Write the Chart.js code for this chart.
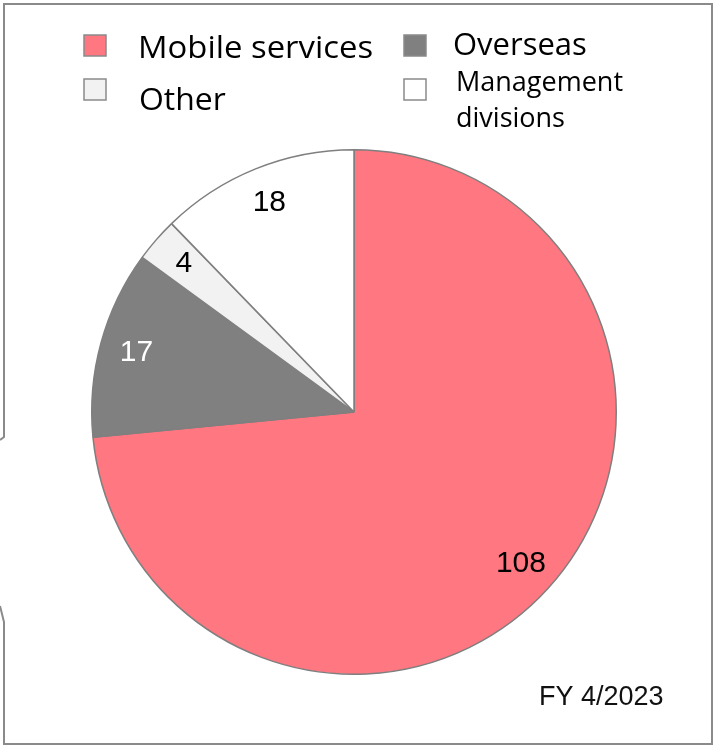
<!DOCTYPE html>
<html>
<head>
<meta charset="utf-8">
<script src="https://cdn.jsdelivr.net/npm/chart.js@4.4.1/dist/chart.umd.min.js"></script>
<style>
  html, body { margin: 0; padding: 0; background: #fff; }
  canvas { display: block; }
</style>
</head>
<body>
<canvas id="pieChart" width="715" height="747"></canvas>
<script>
// segment data, clockwise from 12 o'clock
const segments = ["Mobile services", "Overseas", "Other", ["Management", "divisions"]];
const counts = [108, 17, 4, 18];
const sliceColors = ["#ff7780", "#808080", "#f2f2f2", "#ffffff"];
const labelColors = ["#000000", "#ffffff", "#000000", "#000000"];
const periodLabel = "FY 4/2023";

// legend slots (box left, box top, text left, text baseline, font size, x stretch)
const legendSlots = [
  { bx: 84, by: 35, tx: 138, ty: 58, size: 31, sx: 1.06 },
  { bx: 404, by: 35, tx: 453, ty: 55, size: 31, sx: 1 },
  { bx: 84, by: 79, tx: 139, ty: 110, size: 31, sx: 1.03 },
  { bx: 404, by: 79, tx: 456, ty: 91, size: 27, sx: 1, lineGap: 36 }
];

// frame with the little callout notch on the left side
const framePlugin = {
  id: "frame",
  beforeDraw(chart) {
    const ctx = chart.ctx;
    ctx.save();
    ctx.strokeStyle = "#8a8a8a";
    ctx.lineWidth = 2;
    ctx.beginPath();
    ctx.moveTo(0, 440);
    ctx.lineTo(4, 437);
    ctx.lineTo(4, 4);
    ctx.lineTo(712, 4);
    ctx.lineTo(712, 744);
    ctx.lineTo(4, 744);
    ctx.lineTo(4, 622);
    ctx.lineTo(0, 606);
    ctx.stroke();
    ctx.restore();
  }
};

// legend drawn at the spots used in the original slide
const legendPlugin = {
  id: "slideLegend",
  afterDraw(chart) {
    const ctx = chart.ctx;
    const ds = chart.data.datasets[0];
    ctx.save();
    chart.data.labels.forEach((label, i) => {
      const s = legendSlots[i];
      ctx.fillStyle = ds.backgroundColor[i];
      ctx.strokeStyle = "#8a8a8a";
      ctx.lineWidth = 1.5;
      ctx.fillRect(s.bx, s.by, 22, 21);
      ctx.strokeRect(s.bx, s.by, 22, 21);
      ctx.fillStyle = "#000";
      ctx.font = s.size + "px 'Open Sans', Lato, sans-serif";
      ctx.textBaseline = "alphabetic";
      const lines = Array.isArray(label) ? label : [label];
      lines.forEach((line, j) => {
        ctx.save();
        ctx.translate(s.tx, s.ty + j * (s.lineGap || 0));
        ctx.scale(s.sx, 1);
        ctx.fillText(line, 0, 0);
        ctx.restore();
      });
    });
    ctx.font = "27px 'Liberation Sans', Arial, sans-serif";
    ctx.fillStyle = "#111";
    ctx.fillText(periodLabel, 539, 705);
    ctx.restore();
  }
};

// value labels inside the slices
const valuePlugin = {
  id: "values",
  afterDatasetsDraw(chart) {
    const ctx = chart.ctx;
    const meta = chart.getDatasetMeta(0);
    const values = chart.data.datasets[0].data;
    ctx.save();
    ctx.font = "30px 'Liberation Sans', Arial, sans-serif";
    ctx.textAlign = "center";
    ctx.textBaseline = "middle";
    meta.data.forEach((arc, i) => {
      const p = arc.getProps(["x", "y", "startAngle", "endAngle", "outerRadius"], true);
      const mid = (p.startAngle + p.endAngle) / 2;
      const r = p.outerRadius * 0.86;
      ctx.fillStyle = labelColors[i];
      ctx.fillText(String(values[i]), p.x + Math.cos(mid) * r, p.y + Math.sin(mid) * r);
    });
    ctx.restore();
  }
};

new Chart(document.getElementById("pieChart"), {
  type: "pie",
  data: {
    labels: segments,
    datasets: [{
      data: counts,
      backgroundColor: sliceColors,
      borderColor: "#7f7f7f",
      borderWidth: 1.5
    }]
  },
  options: {
    responsive: false,
    animation: false,
    layout: { padding: { left: 91, right: 98, top: 149, bottom: 72 } },
    plugins: {
      legend: { display: false },
      tooltip: { enabled: false }
    }
  },
  plugins: [framePlugin, legendPlugin, valuePlugin]
});
</script>
</body>
</html>
